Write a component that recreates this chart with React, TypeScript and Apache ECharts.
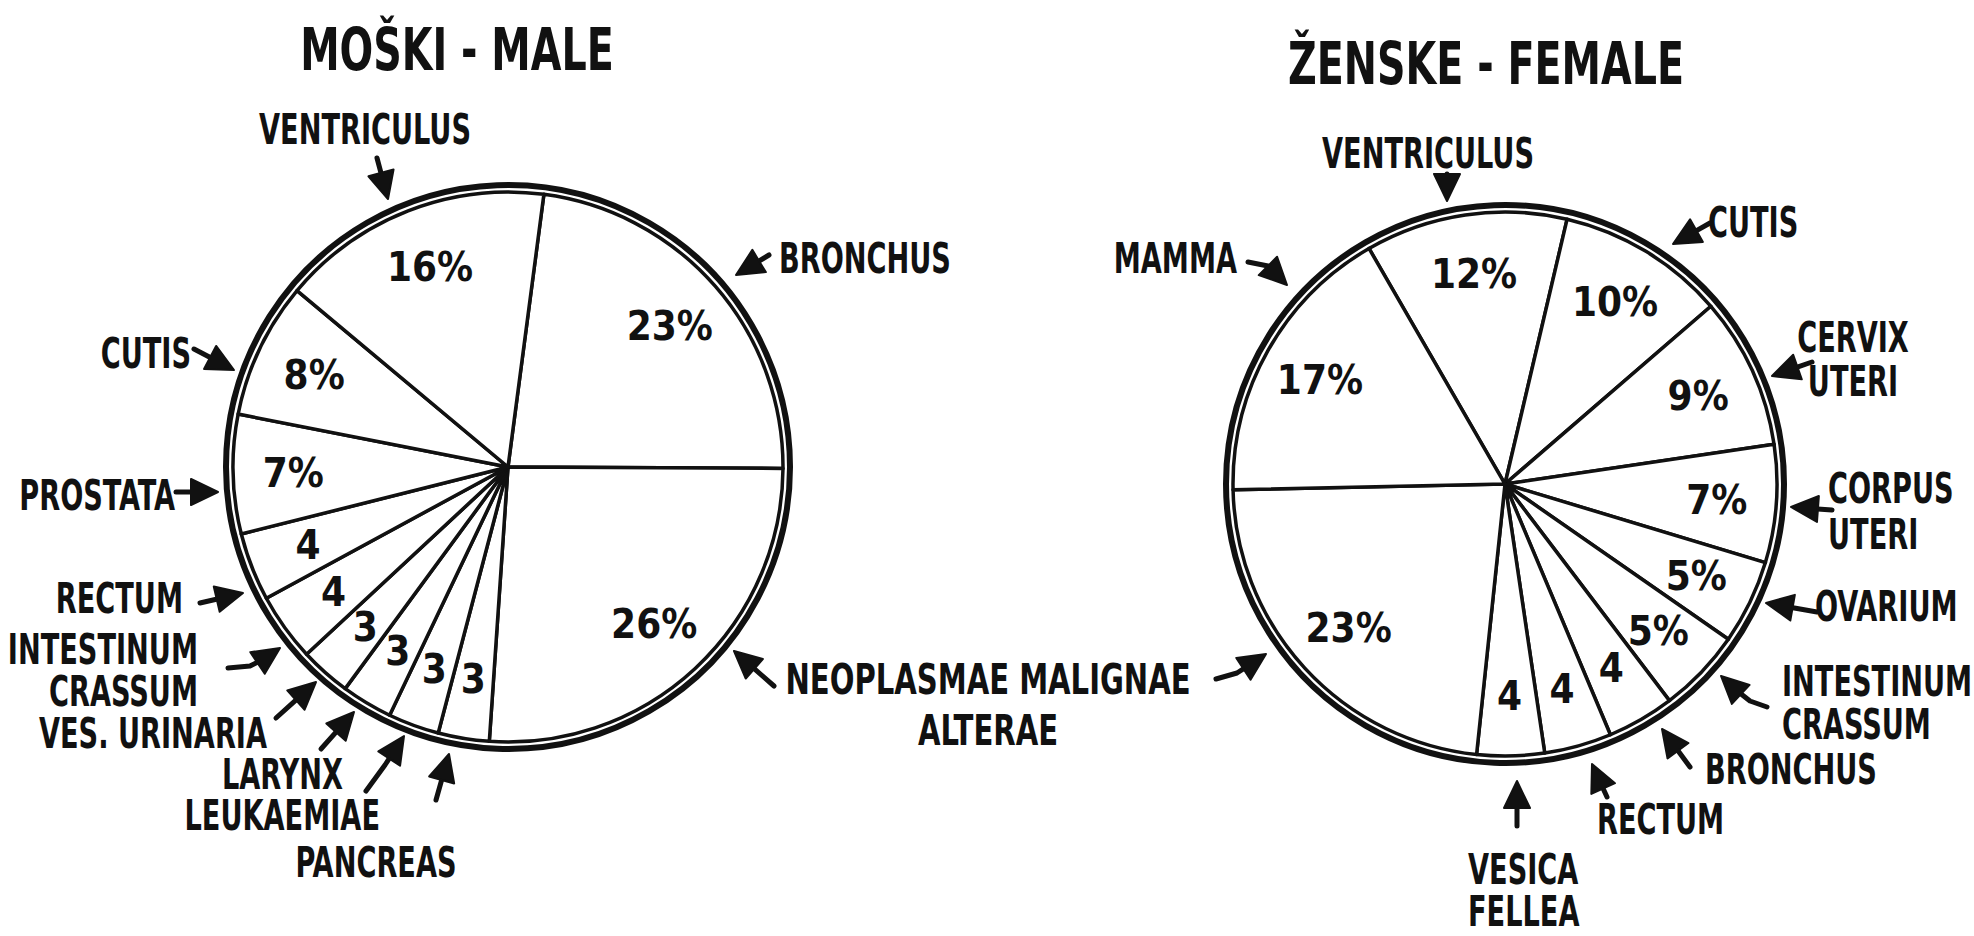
import React, { useEffect, useRef } from "react";
import * as echarts from "echarts";

// ---------- DATA ----------
const maleNames = [
  "BRONCHUS",
  "NEOPLASMAE MALIGNAE ALTERAE",
  "PANCREAS",
  "LEUKAEMIAE",
  "LARYNX",
  "VES. URINARIA",
  "INTESTINUM CRASSUM",
  "RECTUM",
  "PROSTATA",
  "CUTIS",
  "VENTRICULUS",
];
const maleValues = [23, 26, 3, 3, 3, 3, 4, 4, 7, 8, 16];

const femaleNames = [
  "VENTRICULUS",
  "CUTIS",
  "CERVIX UTERI",
  "CORPUS UTERI",
  "OVARIUM",
  "INTESTINUM CRASSUM",
  "BRONCHUS",
  "RECTUM",
  "VESICA FELLEA",
  "NEOPLASMAE MALIGNAE ALTERAE",
  "MAMMA",
];
const femaleValues = [12, 10, 9, 7, 5, 5, 4, 4, 4, 23, 17];

const titles = ["MOŠKI - MALE", "ŽENSKE - FEMALE"];

// ---------- LAYOUT (positions / styles only) ----------
const INK = "#111";
const FONT = "DejaVu Sans Condensed";
const MALE_PIE = { cx: 508, cy: 467, r: 275, ring: 282, start: 82.5 };
const FEMALE_PIE = { cx: 1505, cy: 484, r: 272, ring: 279, start: 120 };

type Lbl = { text: string; x: number; y: number; align: string; lh?: number; sx?: number };
const titleLayout: Lbl[] = [
  { text: titles[0], x: 457, y: 50, align: "center" },
  { text: titles[1], x: 1486, y: 64, align: "center" },
];
const maleLabelLayout: Lbl[] = [
  { text: "BRONCHUS", x: 779, y: 259, align: "left" },
  { text: "NEOPLASMAE MALIGNAE\nALTERAE", x: 988, y: 705, align: "center", lh: 51, sx: 0.77 },
  { text: "PANCREAS", x: 376, y: 863, align: "center" },
  { text: "LEUKAEMIAE", x: 380, y: 816, align: "right" },
  { text: "LARYNX", x: 343, y: 775, align: "right" },
  { text: "VES. URINARIA", x: 267, y: 734, align: "right" },
  { text: "INTESTINUM\nCRASSUM", x: 198, y: 671, align: "right", lh: 42 },
  { text: "RECTUM", x: 183, y: 599, align: "right" },
  { text: "PROSTATA", x: 175, y: 496, align: "right" },
  { text: "CUTIS", x: 191, y: 354, align: "right" },
  { text: "VENTRICULUS", x: 365, y: 130, align: "center" },
];
const femaleLabelLayout: Lbl[] = [
  { text: "VENTRICULUS", x: 1428, y: 154, align: "center" },
  { text: "CUTIS", x: 1708, y: 223, align: "left" },
  { text: "CERVIX\nUTERI", x: 1853, y: 360, align: "center", lh: 44 },
  { text: "CORPUS\nUTERI", x: 1828, y: 512, align: "left", lh: 46 },
  { text: "OVARIUM", x: 1815, y: 607, align: "left" },
  { text: "INTESTINUM\nCRASSUM", x: 1782, y: 703, align: "left", lh: 43 },
  { text: "BRONCHUS", x: 1705, y: 770, align: "left" },
  { text: "RECTUM", x: 1597, y: 820, align: "left" },
  { text: "VESICA\nFELLEA", x: 1468, y: 891, align: "left", lh: 42 },
  { text: "MAMMA", x: 1237, y: 259, align: "right" },
];

// arrow polylines: last point is the tip
const arrows: number[][][] = [
  // male
  [[377, 158], [388, 199]],
  [[769, 255], [736, 275]],
  [[194, 349], [234, 370]],
  [[176, 492], [218, 492]],
  [[200, 603], [243, 593]],
  [[228, 668], [250, 666], [262, 660], [280, 648]],
  [[276, 718], [316, 682]],
  [[321, 749], [354, 712]],
  [[366, 791], [385, 765], [404, 736]],
  [[436, 800], [449, 754]],
  [[774, 686], [734, 651]],
  // female
  [[1447, 174], [1447, 201]],
  [[1248, 262], [1268, 266], [1287, 285]],
  [[1710, 223], [1673, 244]],
  [[1812, 362], [1772, 376]],
  [[1832, 510], [1791, 507]],
  [[1817, 612], [1766, 603]],
  [[1767, 707], [1750, 701], [1736, 690], [1721, 676]],
  [[1690, 767], [1662, 729]],
  [[1607, 797], [1592, 764]],
  [[1517, 826], [1517, 781]],
  [[1216, 679], [1237, 673], [1266, 654]],
];

function arrowElements(pts: number[][]) {
  const L = 27;
  const W = 13;
  const tip = pts[pts.length - 1];
  const prev = pts[pts.length - 2];
  const dx = tip[0] - prev[0];
  const dy = tip[1] - prev[1];
  const len = Math.hypot(dx, dy) || 1;
  const ux = dx / len;
  const uy = dy / len;
  const bx = tip[0] - ux * L;
  const by = tip[1] - uy * L;
  const nx = -uy;
  const ny = ux;
  const shaft = pts.slice(0, pts.length - 1).concat([[bx + ux * 4, by + uy * 4]]);
  return [
    {
      type: "polyline",
      silent: true,
      shape: { points: shaft },
      style: { stroke: INK, lineWidth: 5, fill: null, lineCap: "round", lineJoin: "round" },
    },
    {
      type: "polygon",
      silent: true,
      shape: {
        points: [
          [tip[0], tip[1]],
          [bx + nx * W, by + ny * W],
          [bx - nx * W, by - ny * W],
        ],
      },
      style: { fill: INK, stroke: INK, lineWidth: 2, lineJoin: "round" },
    },
  ];
}

function textElement(l: Lbl, size: number, scaleX: number) {
  return {
    type: "text",
    silent: true,
    x: l.x,
    y: l.y,
    scaleX: l.sx || scaleX,
    style: {
      text: l.text,
      fontFamily: FONT,
      fontWeight: "bold",
      fontSize: size,
      fill: INK,
      align: l.align,
      verticalAlign: "middle",
      textAlign: l.align,
      textVerticalAlign: "middle",
      lineHeight: l.lh || size,
    },
  };
}

function pieSeries(names: string[], values: number[], geo: any) {
  const data = names.map((n, i) => ({ name: n, value: values[i] }));
  return [
    {
      type: "pie",
      silent: true,
      center: [geo.cx, geo.cy],
      radius: geo.r,
      startAngle: geo.start,
      clockwise: true,
      avoidLabelOverlap: false,
      data,
      itemStyle: { color: "#fff", borderColor: INK, borderWidth: 3.5 },
      label: { show: false },
      labelLine: { show: false },
      emphasis: { disabled: true },
    },
    {
      type: "pie",
      silent: true,
      center: [geo.cx, geo.cy],
      radius: [geo.r * 0.54, geo.r],
      startAngle: geo.start,
      clockwise: true,
      avoidLabelOverlap: false,
      data,
      itemStyle: { color: "rgba(0,0,0,0)", borderWidth: 0 },
      label: {
        show: true,
        position: "inside",
        formatter: (p: any) => (p.value >= 5 ? `${p.value}%` : `${p.value}`),
        fontFamily: FONT,
        fontWeight: "bold",
        fontSize: 40,
        color: INK,
      },
      labelLine: { show: false },
      emphasis: { disabled: true },
    },
  ];
}

export default function App() {
  const ref = useRef<HTMLDivElement>(null);
  useEffect(() => {
    if (!ref.current) return;
    const chart = echarts.init(ref.current, undefined, { renderer: "svg" });
    const graphics: any[] = [];
    [MALE_PIE, FEMALE_PIE].forEach((g) => {
      graphics.push({
        type: "circle",
        silent: true,
        shape: { cx: g.cx, cy: g.cy, r: g.ring },
        style: { fill: null, stroke: INK, lineWidth: 6 },
      });
    });
    titleLayout.forEach((l) => graphics.push(textElement(l, 58, 0.76)));
    maleLabelLayout.forEach((l) => graphics.push(textElement(l, 42, 0.72)));
    femaleLabelLayout.forEach((l) => graphics.push(textElement(l, 42, 0.72)));
    arrows.forEach((a) => arrowElements(a).forEach((e) => graphics.push(e)));

    chart.setOption({
      animation: false,
      backgroundColor: "#fff",
      series: [
        ...pieSeries(maleNames, maleValues, MALE_PIE),
        ...pieSeries(femaleNames, femaleValues, FEMALE_PIE),
      ],
      graphic: { elements: graphics },
    });
    return () => chart.dispose();
  }, []);
  return (
    <div
      ref={ref}
      style={{ position: "fixed", left: 0, top: 0, width: 1974, height: 936, background: "#fff" }}
    />
  );
}
